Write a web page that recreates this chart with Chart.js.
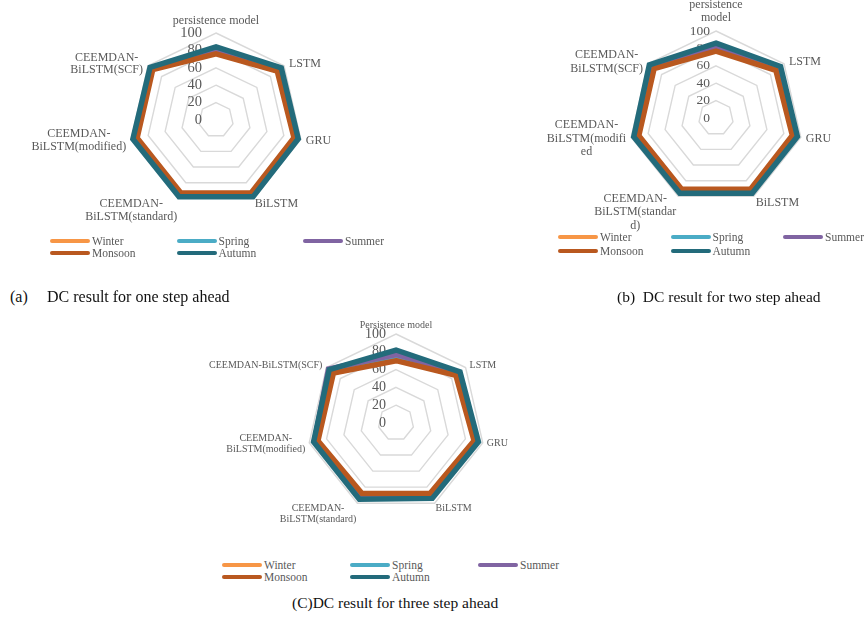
<!DOCTYPE html>
<html>
<head>
<meta charset="utf-8">
<script src="https://cdn.jsdelivr.net/npm/chart.js@4.4.1/dist/chart.umd.min.js"></script>
<style>
  html, body { margin: 0; padding: 0; }
  body {
    width: 865px; height: 619px; background: #fff; position: relative; overflow: hidden;
    font-family: "Liberation Serif", "Times New Roman", serif;
  }
  canvas { position: absolute; }
  .lg-line { position: absolute; width: 40px; height: 4px; border-radius: 2px; }
  .lg-text { position: absolute; font-size: 11.5px; line-height: 14px; color: #595959; white-space: nowrap; }
  .cap { position: absolute; font-size: 15.5px; line-height: 20px; color: #111; white-space: pre; }
</style>
</head>
<body>
<canvas id="oneStep" width="432" height="232" style="left:0;top:0"></canvas>
<canvas id="twoStep" width="433" height="232" style="left:432px;top:0"></canvas>
<canvas id="threeStep" width="360" height="240" style="left:180px;top:300px"></canvas>

<div class="cap" style="left:10px;top:287px;font-size:16px">(a)</div>
<div class="cap" style="left:47px;top:287px;font-size:16px">DC result for one step ahead</div>
<div class="cap" style="left:617px;top:287px">(b)  DC result for two step ahead</div>
<div class="cap" style="left:292px;top:593px">(C)DC result for three step ahead</div>

<script>
// Seasons (series) and the compared models (categories)
const seasons = ['Winter', 'Spring', 'Summer', 'Monsoon', 'Autumn'];

const modelsOneStep = ['persistence model', 'LSTM', 'GRU', 'BiLSTM',
  ['CEEMDAN-', 'BiLSTM(standard)'], ['CEEMDAN-', 'BiLSTM(modified)'], ['CEEMDAN-', 'BiLSTM(SCF)']];
const modelsTwoStep = [['persistence', 'model'], 'LSTM', 'GRU', 'BiLSTM',
  ['CEEMDAN-', 'BiLSTM(standar', 'd)'], ['CEEMDAN-', 'BiLSTM(modifi', 'ed'], ['CEEMDAN-', 'BiLSTM(SCF)']];
const modelsThreeStep = ['Persistence model', 'LSTM', 'GRU', 'BiLSTM',
  ['CEEMDAN-', 'BiLSTM(standard)'], ['CEEMDAN-', 'BiLSTM(modified)'], 'CEEMDAN-BiLSTM(SCF)'];

const radialTicks = [0, 20, 40, 60, 80, 100];

// DC (%) — one step ahead
const oneStepWinter  = [77, 91, 93, 94, 94, 94, 94];
const oneStepSpring  = [80, 93, 95, 95, 95, 95, 95];
const oneStepSummer  = [81, 93, 95, 96, 96, 96, 96];
const oneStepMonsoon = [76, 90, 92, 93, 93, 93, 93];
const oneStepAutumn  = [84, 96, 97, 98, 98, 98, 97];

// DC (%) — two step ahead
const twoStepWinter  = [78, 89, 91, 92, 92, 92, 92];
const twoStepSpring  = [80, 92, 94, 94, 94, 95, 95];
const twoStepSummer  = [82, 93, 95, 95, 95, 96, 96];
const twoStepMonsoon = [77, 88, 90, 91, 91, 91, 91];
const twoStepAutumn  = [86, 95, 96, 96, 96, 97, 98];

// DC (%) — three step ahead
const threeStepWinter  = [71, 87, 91, 89, 89, 91, 91];
const threeStepSpring  = [74, 89, 93, 91, 91, 93, 94];
const threeStepSummer  = [77, 91, 94, 93, 93, 94, 97];
const threeStepMonsoon = [70, 86, 90, 88, 88, 90, 90];
const threeStepAutumn  = [82, 92, 95, 94, 95, 95, 96];

const seasonColors = ['#F79646', '#4BACC6', '#8064A2', '#B9581F', '#236B7B'];
const TEXT_GREY = '#595959';
const FONT = '"Liberation Serif", "Times New Roman", serif';

// Draws the radial tick numbers (right-aligned beside the vertical axis) and the
// category labels in the spreadsheet style, positioned through the radial scale.
const spiderLabels = {
  id: 'spiderLabels',
  beforeDatasetsDraw(chart, args, o) {
    const s = chart.scales.r;
    const ctx = chart.ctx;
    ctx.save();
    ctx.font = o.tickSize + 'px ' + FONT;
    ctx.fillStyle = TEXT_GREY;
    ctx.textAlign = 'right';
    ctx.textBaseline = 'middle';
    radialTicks.forEach(v => {
      const d = s.getDistanceFromCenterForValue(v);
      ctx.fillText(String(v), s.xCenter + o.tickDx, s.yCenter - d);
    });
    ctx.restore();
  },
  afterDraw(chart, args, o) {
    const s = chart.scales.r;
    const ctx = chart.ctx;
    const labels = chart.data.labels;
    const n = labels.length;
    ctx.save();
    ctx.font = o.labelSize + 'px ' + FONT;
    ctx.fillStyle = TEXT_GREY;
    ctx.textAlign = 'center';
    ctx.textBaseline = 'middle';
    const lh = o.lineHeight;
    labels.forEach((lab, i) => {
      const lines = Array.isArray(lab) ? lab : [lab];
      const p = s.getPointPosition(i, s.drawingArea);
      const w = Math.max(...lines.map(t => ctx.measureText(t).width));
      const h = lines.length * lh;
      const a = i * 2 * Math.PI / n;
      const sinA = Math.sin(a), cosA = Math.cos(a);
      let cx, cy;
      if (Math.abs(sinA) < 0.2 && cosA > 0) {
        cx = p.x;
        cy = p.y - o.padTop - h / 2;
      } else if (cosA < -0.5) {
        cx = p.x + Math.sign(sinA) * (o.padBottom + w / 2);
        cy = p.y + lh * 0.45 + (h - lh) / 2 - (lines.length > 2 ? lh * 0.3 : 0);
      } else {
        cx = p.x + Math.sign(sinA) * (o.padX + w / 2);
        cy = p.y + (cosA > 0 ? -2 : 1);
      }
      const top = cy - h / 2;
      lines.forEach((t, k) => ctx.fillText(t, cx, top + lh * (k + 0.5)));
    });
    ctx.restore();
  }
};

function buildRadar(id, labels, series, pad, lbl) {
  return new Chart(document.getElementById(id), {
    type: 'radar',
    data: {
      labels: labels,
      // later seasons are painted over earlier ones (Autumn on top)
      datasets: seasons.map((name, k) => ({
        label: name,
        data: series[k],
        order: seasons.length - 1 - k,
        borderColor: seasonColors[k],
        backgroundColor: seasonColors[k],
        borderWidth: 5.5,
        fill: false,
        pointRadius: 0,
        pointHoverRadius: 0,
        tension: 0,
        borderJoinStyle: 'miter'
      }))
    },
    options: {
      responsive: false,
      animation: false,
      events: [],
      layout: { padding: pad },
      plugins: {
        legend: { display: false },
        tooltip: { enabled: false },
        spiderLabels: lbl
      },
      scales: {
        r: {
          min: 0, max: 100,
          ticks: { stepSize: 20, display: false },
          grid: { color: '#D9D9D9', lineWidth: 1.4, circular: false },
          angleLines: { display: false },
          pointLabels: { display: false }
        }
      }
    },
    plugins: [spiderLabels]
  });
}

// (a) centre (216,120), radius 87
buildRadar('oneStep', modelsOneStep,
  [oneStepWinter, oneStepSpring, oneStepSummer, oneStepMonsoon, oneStepAutumn],
  { left: 129, right: 129, top: 33, bottom: 25 },
  { tickSize: 14.5, tickDx: -14, labelSize: 12, lineHeight: 12.5, padTop: 6, padX: 5, padBottom: 1 });

// (b) centre (716,118), radius 87
buildRadar('twoStep', modelsTwoStep,
  [twoStepWinter, twoStepSpring, twoStepSummer, twoStepMonsoon, twoStepAutumn],
  { left: 197, right: 62, top: 31, bottom: 27 },
  { tickSize: 13.5, tickDx: -6, labelSize: 12, lineHeight: 13.5, padTop: 6, padX: 5, padBottom: 2 });

// (c) centre (396,423), radius 89
buildRadar('threeStep', modelsThreeStep,
  [threeStepWinter, threeStepSpring, threeStepSummer, threeStepMonsoon, threeStepAutumn],
  { left: 127, right: 55, top: 34, bottom: 28 },
  { tickSize: 14, tickDx: -10, labelSize: 10, lineHeight: 11.5, padTop: 3, padX: 4, padBottom: 1 });

// Legends: three columns, two rows, one per chart
function buildLegend(x0, y0, dx, dy) {
  seasons.forEach((name, k) => {
    const col = k % 3, row = Math.floor(k / 3);
    const x = x0 + col * dx, y = y0 + row * dy;
    const line = document.createElement('div');
    line.className = 'lg-line';
    line.style.left = x + 'px';
    line.style.top = (y - 2) + 'px';
    line.style.background = seasonColors[k];
    document.body.appendChild(line);
    const txt = document.createElement('div');
    txt.className = 'lg-text';
    txt.style.left = (x + 42) + 'px';
    txt.style.top = (y - 7) + 'px';
    txt.textContent = name;
    document.body.appendChild(txt);
  });
}
buildLegend(50, 241, 126.5, 11.6);
buildLegend(558, 237, 112.5, 14.3);
buildLegend(222, 565, 128, 12.3);
</script>
</body>
</html>
